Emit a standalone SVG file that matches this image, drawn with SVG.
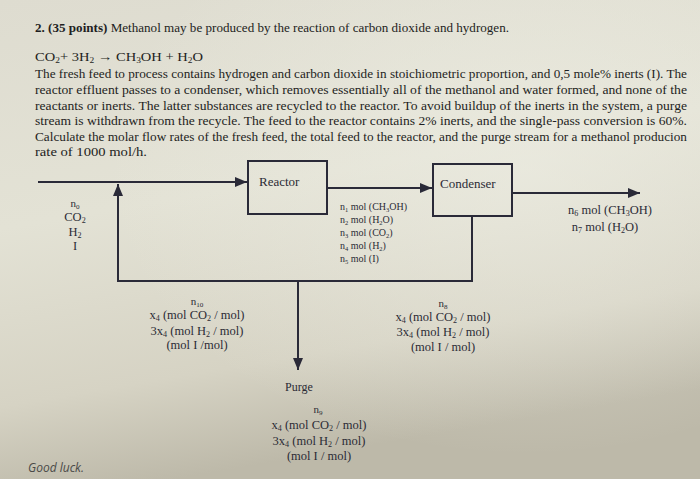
<svg xmlns="http://www.w3.org/2000/svg" width="700" height="479" viewBox="0 0 700 479">
<defs>
<linearGradient id="bg" x1="0" y1="0" x2="0.25" y2="1">
<stop offset="0" stop-color="#dedcd0"/>
<stop offset="0.45" stop-color="#e3e2d5"/>
<stop offset="0.8" stop-color="#d6d3c4"/>
<stop offset="1" stop-color="#bdb9a9"/>
</linearGradient>
<radialGradient id="hl" cx="0.75" cy="0.35" r="0.6">
<stop offset="0" stop-color="#eeeee4" stop-opacity="0.6"/>
<stop offset="1" stop-color="#eeeee4" stop-opacity="0"/>
</radialGradient>
<marker id="ah" viewBox="0 0 12 10" refX="12" refY="5" markerWidth="12" markerHeight="10" markerUnits="userSpaceOnUse" orient="auto">
<path d="M0,0 L12,5 L0,10 Z" fill="#2a2a38"/>
</marker>
<style>
.p{font-family:"Liberation Serif","Times New Roman",serif;font-size:13px;fill:#1e1e22}
.d{font-family:"Liberation Serif","Times New Roman",serif;fill:#2b2b35}
.m{font-size:12.5px;text-anchor:middle}
.sm{font-size:10px}
.ln{fill:none;stroke:#2a2a38;stroke-width:2}
.box{fill:none;stroke:#2a2a38;stroke-width:2}
.s{font-size:65%}
</style>
</defs>
<rect width="700" height="479" fill="url(#bg)"/>
<rect width="700" height="479" fill="url(#hl)"/>

<g id="problem-text" class="p">
<text x="35" y="32" font-size="13.5" textLength="474" lengthAdjust="spacingAndGlyphs"><tspan font-weight="bold">2. (35 points)</tspan> Methanol may be produced by the reaction of carbon dioxide and hydrogen.</text>
<text x="35" y="61" font-size="13.5" textLength="168" lengthAdjust="spacingAndGlyphs">CO<tspan class="s" baseline-shift="-2">2</tspan>+ 3H<tspan class="s" baseline-shift="-2">2</tspan> → CH<tspan class="s" baseline-shift="-2">3</tspan>OH + H<tspan class="s" baseline-shift="-2">2</tspan>O</text>
<text x="35" y="78" textLength="652" lengthAdjust="spacingAndGlyphs">The fresh feed to process contains hydrogen and carbon dioxide in stoichiometric proportion, and 0,5 mole% inerts (I). The</text>
<text x="35" y="94" textLength="652" lengthAdjust="spacingAndGlyphs">reactor effluent passes to a condenser, which removes essentially all of the methanol and water formed, and none of the</text>
<text x="35" y="110" textLength="652" lengthAdjust="spacingAndGlyphs">reactants or inerts. The latter substances are recycled to the reactor. To avoid buildup of the inerts in the system, a purge</text>
<text x="35" y="125" textLength="652" lengthAdjust="spacingAndGlyphs">stream is withdrawn from the recycle. The feed to the reactor contains 2% inerts, and the single-pass conversion is 60%.</text>
<text x="35" y="141" textLength="652" lengthAdjust="spacingAndGlyphs">Calculate the molar flow rates of the fresh feed, the total feed to the reactor, and the purge stream for a methanol producion</text>
<text x="35" y="156" font-size="13.5" textLength="112" lengthAdjust="spacingAndGlyphs">rate of 1000 mol/h.</text>
</g>

<g id="connectors">
<path class="ln" d="M38,182 H247" marker-end="url(#ah)"/>
<path class="ln" d="M327,188 H432" marker-end="url(#ah)"/>
<path class="ln" d="M512,193 H640" marker-end="url(#ah)"/>
<path class="ln" d="M472,216 V281 H118 V184" marker-end="url(#ah)"/>
<path class="ln" d="M298,281 V370" marker-end="url(#ah)"/>
</g>

<g id="reactor">
<rect class="box" x="248" y="161" width="79" height="53"/>
<text class="d" x="259" y="186" font-size="13">Reactor</text>
</g>

<g id="condenser">
<rect class="box" x="433" y="164" width="79" height="52"/>
<text class="d" x="440" y="188" font-size="13">Condenser</text>
</g>

<g id="fresh-feed-label" class="d m">
<text x="75" y="207" font-size="11">n<tspan class="s" baseline-shift="-1.5">0</tspan></text>
<text x="75" y="221">CO<tspan class="s" baseline-shift="-2">2</tspan></text>
<text x="75" y="236">H<tspan class="s" baseline-shift="-2">2</tspan></text>
<text x="75" y="250">I</text>
</g>

<g id="reactor-outlet-label" class="d sm">
<text x="340" y="210">n<tspan class="s" baseline-shift="-1.5">1</tspan> mol (CH<tspan class="s" baseline-shift="-1.5">3</tspan>OH)</text>
<text x="340" y="223">n<tspan class="s" baseline-shift="-1.5">2</tspan> mol (H<tspan class="s" baseline-shift="-1.5">2</tspan>O)</text>
<text x="340" y="236">n<tspan class="s" baseline-shift="-1.5">3</tspan> mol (CO<tspan class="s" baseline-shift="-1.5">2</tspan>)</text>
<text x="340" y="249">n<tspan class="s" baseline-shift="-1.5">4</tspan> mol (H<tspan class="s" baseline-shift="-1.5">2</tspan>)</text>
<text x="340" y="262">n<tspan class="s" baseline-shift="-1.5">5</tspan> mol (I)</text>
</g>

<g id="product-label" class="d m">
<text x="610" y="214">n<tspan class="s" baseline-shift="-2">6</tspan> mol (CH<tspan class="s" baseline-shift="-2">3</tspan>OH)</text>
<text x="605" y="231">n<tspan class="s" baseline-shift="-2">7</tspan> mol (H<tspan class="s" baseline-shift="-2">2</tspan>O)</text>
</g>

<g id="recycle-n10-label" class="d m">
<text x="197" y="305" font-size="11">n<tspan class="s" baseline-shift="-1.5">10</tspan></text>
<text x="197" y="319">x<tspan class="s" baseline-shift="-2">4</tspan> (mol CO<tspan class="s" baseline-shift="-2">2</tspan> / mol)</text>
<text x="197" y="335">3x<tspan class="s" baseline-shift="-2">4</tspan> (mol H<tspan class="s" baseline-shift="-2">2</tspan> / mol)</text>
<text x="197" y="349">(mol I /mol)</text>
</g>

<g id="recycle-n8-label" class="d m">
<text x="443" y="307" font-size="11">n<tspan class="s" baseline-shift="-1.5">8</tspan></text>
<text x="443" y="321">x<tspan class="s" baseline-shift="-2">4</tspan> (mol CO<tspan class="s" baseline-shift="-2">2</tspan> / mol)</text>
<text x="443" y="336">3x<tspan class="s" baseline-shift="-2">4</tspan> (mol H<tspan class="s" baseline-shift="-2">2</tspan> / mol)</text>
<text x="443" y="351">(mol I / mol)</text>
</g>

<g id="purge" class="d">
<text x="285" y="391" font-size="12">Purge</text>
<g class="m">
<text x="318" y="413" font-size="11">n<tspan class="s" baseline-shift="-1.5">9</tspan></text>
<text x="319" y="429">x<tspan class="s" baseline-shift="-2">4</tspan> (mol CO<tspan class="s" baseline-shift="-2">2</tspan> / mol)</text>
<text x="319" y="445">3x<tspan class="s" baseline-shift="-2">4</tspan> (mol H<tspan class="s" baseline-shift="-2">2</tspan> / mol)</text>
<text x="319" y="460">(mol I / mol)</text>
</g>
</g>

<text id="good-luck" x="28" y="472" font-family="'Open Sans','Liberation Sans',sans-serif" font-size="12" font-style="italic" fill="#4a4a48">Good luck.</text>
</svg>
